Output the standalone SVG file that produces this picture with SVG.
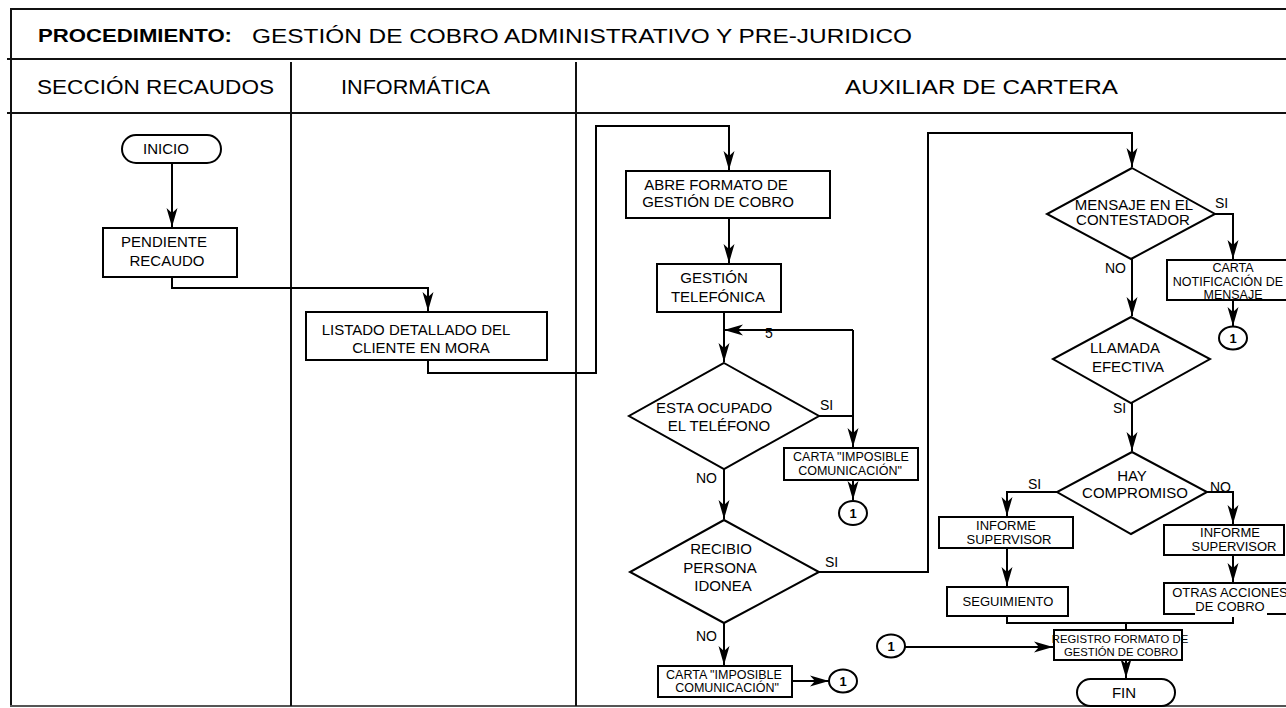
<svg xmlns="http://www.w3.org/2000/svg" width="1286" height="708" viewBox="0 0 1286 708">
  <style>
    text { font-family: "Liberation Sans", Arial, sans-serif; fill: #000; }
    .frame { stroke: #111; stroke-width: 2; fill: none; }
    .box { fill: #fff; stroke: #000; stroke-width: 2; }
    .conn { fill: none; stroke: #000; stroke-width: 2; }
    .t15 { font-size: 15px; text-anchor: middle; }
    .t13 { font-size: 13px; text-anchor: middle; }
    .t12 { font-size: 12.5px; text-anchor: middle; }
    .t11 { font-size: 11.3px; text-anchor: middle; }
    .lbl { font-size: 14px; }
    .ref { font-size: 13px; font-weight: bold; text-anchor: middle; }
    .hdr { font-size: 20px; }
  </style>
  <defs>
    <marker id="arrow" markerUnits="userSpaceOnUse" markerWidth="21" markerHeight="12" refX="19" refY="6" orient="auto">
      <path d="M0,0.5 L19,6 L0,11.5 L5,6 z" fill="#000"/>
    </marker>
  </defs>

  <rect width="1286" height="708" fill="#fff"/>

  <!-- page frame, title row and swimlanes -->
  <g id="frame">
    <line class="frame" x1="11" y1="9" x2="11" y2="706"/>
    <line class="frame" x1="10" y1="9" x2="1286" y2="9"/>
    <line class="frame" x1="7" y1="59" x2="1286" y2="59"/>
    <line class="frame" x1="7" y1="113" x2="1286" y2="113"/>
    <line x1="10" y1="706" x2="1286" y2="706" stroke="#555" stroke-width="2"/>
    <line class="frame" x1="291" y1="62" x2="291" y2="706"/>
    <line class="frame" x1="576" y1="62" x2="576" y2="706"/>
    <text x="38" y="42" font-size="19" font-weight="bold" textLength="194" lengthAdjust="spacingAndGlyphs">PROCEDIMIENTO:</text>
    <text x="252" y="43" class="hdr" textLength="660" lengthAdjust="spacingAndGlyphs">GESTIÓN DE COBRO ADMINISTRATIVO Y PRE-JURIDICO</text>
    <text x="37" y="94" class="hdr" textLength="237" lengthAdjust="spacingAndGlyphs">SECCIÓN RECAUDOS</text>
    <text x="341" y="94" class="hdr" textLength="149" lengthAdjust="spacingAndGlyphs">INFORMÁTICA</text>
    <text x="845" y="94" class="hdr" textLength="273" lengthAdjust="spacingAndGlyphs">AUXILIAR DE CARTERA</text>
  </g>

  <!-- connectors -->
  <g id="connectors">
    <path class="conn" d="M172,163 V227" marker-end="url(#arrow)"/>
    <path class="conn" d="M172,277 V288 H428 V311" marker-end="url(#arrow)"/>
    <path class="conn" d="M428,360 V373 H596 V126 H729 V170" marker-end="url(#arrow)"/>
    <path class="conn" d="M729,218 V263" marker-end="url(#arrow)"/>
    <path class="conn" d="M724,312 V362" marker-end="url(#arrow)"/>
    <path class="conn" d="M819,416 H853 V330"/>
    <path class="conn" d="M853,330 H724" marker-end="url(#arrow)"/>
    <path class="conn" d="M853,416 V447" marker-end="url(#arrow)"/>
    <path class="conn" d="M853,480 V500" marker-end="url(#arrow)"/>
    <path class="conn" d="M724,469 V519" marker-end="url(#arrow)"/>
    <path class="conn" d="M819,572 H928 V133 H1132 V167" marker-end="url(#arrow)"/>
    <path class="conn" d="M724,623 V665" marker-end="url(#arrow)"/>
    <path class="conn" d="M792,681 H829" marker-end="url(#arrow)"/>
    <path class="conn" d="M1215,214 H1233 V259" marker-end="url(#arrow)"/>
    <path class="conn" d="M1233,300 V326" marker-end="url(#arrow)"/>
    <path class="conn" d="M1132,259 V316" marker-end="url(#arrow)"/>
    <path class="conn" d="M1132,403 V451" marker-end="url(#arrow)"/>
    <path class="conn" d="M1057,492 H1007 V516" marker-end="url(#arrow)"/>
    <path class="conn" d="M1007,548 V586" marker-end="url(#arrow)"/>
    <path class="conn" d="M1207,492 H1233 V524" marker-end="url(#arrow)"/>
    <path class="conn" d="M1233,555 V582" marker-end="url(#arrow)"/>
    <path class="conn" d="M1007,616 V623 H1233 V614"/>
    <path class="conn" d="M1126,623 V630"/>
    <path class="conn" d="M905,647 H1053" marker-end="url(#arrow)"/>
    <path class="conn" d="M1126,660 V678" marker-end="url(#arrow)"/>
  </g>

  <!-- edge labels -->
  <g id="edge-labels">
    <text class="lbl" x="765" y="338" font-size="13">5</text>
    <text class="lbl" x="820" y="410">SI</text>
    <text class="lbl" x="696" y="483">NO</text>
    <text class="lbl" x="825" y="567">SI</text>
    <text class="lbl" x="696" y="641">NO</text>
    <text class="lbl" x="1215" y="208">SI</text>
    <text class="lbl" x="1105" y="273">NO</text>
    <text class="lbl" x="1113" y="413">SI</text>
    <text class="lbl" x="1028" y="489">SI</text>
    <text class="lbl" x="1210" y="492">NO</text>
  </g>

  <g id="inicio">
    <rect class="box" x="122" y="135" width="99" height="28" rx="14"/>
    <text class="t15" x="166" y="154">INICIO</text>
  </g>

  <g id="pendiente-recaudo">
    <rect class="box" x="103" y="228" width="134" height="49"/>
    <text class="t15" x="164" y="247">PENDIENTE</text>
    <text class="t15" x="167" y="266">RECAUDO</text>
  </g>

  <g id="listado-clientes">
    <rect class="box" x="306" y="312" width="241" height="48"/>
    <text class="t15" x="416" y="335">LISTADO DETALLADO DEL</text>
    <text class="t15" x="421" y="353">CLIENTE EN MORA</text>
  </g>

  <g id="abre-formato">
    <rect class="box" x="626" y="171" width="204" height="47"/>
    <text class="t15" x="716" y="190">ABRE FORMATO DE</text>
    <text class="t15" x="718" y="207">GESTIÓN DE COBRO</text>
  </g>

  <g id="gestion-telefonica">
    <rect class="box" x="657" y="264" width="124" height="48"/>
    <text class="t15" x="714" y="283">GESTIÓN</text>
    <text class="t15" x="718" y="302">TELEFÓNICA</text>
  </g>

  <g id="telefono-ocupado">
    <polygon class="box" points="724,363 819,416 724,469 629,416"/>
    <text class="t15" x="714" y="413">ESTA OCUPADO</text>
    <text class="t15" x="719" y="431">EL TELÉFONO</text>
  </g>

  <g id="carta-imposible-1">
    <rect class="box" x="784" y="448" width="134" height="32"/>
    <text class="t12" x="851" y="461">CARTA "IMPOSIBLE</text>
    <text class="t12" x="850" y="475">COMUNICACIÓN"</text>
  </g>

  <g id="conector-1a">
    <ellipse class="box" cx="853" cy="513" rx="14" ry="12"/>
    <text class="ref" x="853" y="518">1</text>
  </g>

  <g id="persona-idonea">
    <polygon class="box" points="724,520 819,572 724,623 630,572"/>
    <text class="t15" x="721" y="554">RECIBIO</text>
    <text class="t15" x="720" y="573">PERSONA</text>
    <text class="t15" x="723" y="591">IDONEA</text>
  </g>

  <g id="carta-imposible-2">
    <rect class="box" x="658" y="666" width="134" height="31"/>
    <text class="t12" x="724" y="679">CARTA "IMPOSIBLE</text>
    <text class="t12" x="727" y="692">COMUNICACIÓN"</text>
  </g>

  <g id="conector-1b">
    <ellipse class="box" cx="843" cy="681" rx="14" ry="11.5"/>
    <text class="ref" x="843" y="686">1</text>
  </g>

  <g id="mensaje-contestador">
    <polygon class="box" points="1132,168 1215,214 1131,259 1047,214"/>
    <text class="t15" x="1134" y="210">MENSAJE EN EL</text>
    <text class="t15" x="1133" y="225">CONTESTADOR</text>
  </g>

  <g id="carta-notificacion">
    <rect class="box" x="1167" y="260" width="132" height="40"/>
    <text class="t12" x="1233" y="272">CARTA</text>
    <text class="t12" x="1228" y="286">NOTIFICACIÓN DE</text>
    <text class="t12" x="1233" y="299">MENSAJE</text>
  </g>

  <g id="conector-1c">
    <ellipse class="box" cx="1233" cy="338" rx="14" ry="11.5"/>
    <text class="ref" x="1233" y="343">1</text>
  </g>

  <g id="llamada-efectiva">
    <polygon class="box" points="1131,317 1210,359 1131,403 1053,359"/>
    <text class="t15" x="1125" y="353">LLAMADA</text>
    <text class="t15" x="1128" y="372">EFECTIVA</text>
  </g>

  <g id="hay-compromiso">
    <polygon class="box" points="1132,452 1207,492 1131,534 1057,492"/>
    <text class="t15" x="1132" y="481">HAY</text>
    <text class="t15" x="1135" y="498">COMPROMISO</text>
  </g>

  <g id="informe-supervisor-si">
    <rect class="box" x="939" y="517" width="134" height="31"/>
    <text class="t13" x="1006" y="530">INFORME</text>
    <text class="t13" x="1009" y="544">SUPERVISOR</text>
  </g>

  <g id="seguimiento">
    <rect class="box" x="947" y="587" width="121" height="29"/>
    <text class="t13" x="1008" y="606">SEGUIMIENTO</text>
  </g>

  <g id="informe-supervisor-no">
    <rect class="box" x="1164" y="525" width="120" height="30"/>
    <text class="t13" x="1230" y="537">INFORME</text>
    <text class="t13" x="1234" y="551">SUPERVISOR</text>
  </g>

  <g id="otras-acciones">
    <rect class="box" x="1164" y="583" width="140" height="31"/>
    <rect x="1195" y="600" width="72" height="17" fill="#fff"/>
    <text class="t13" x="1230" y="597">OTRAS ACCIONES</text>
    <text class="t13" x="1230" y="611">DE COBRO</text>
  </g>

  <g id="conector-1d">
    <ellipse class="box" cx="891" cy="646" rx="14" ry="11.5"/>
    <text class="ref" x="891" y="651">1</text>
  </g>

  <g id="registro-formato">
    <rect class="box" x="1054" y="630" width="128" height="30"/>
    <text class="t11" x="1120" y="643">REGISTRO FORMATO DE</text>
    <text class="t11" x="1121" y="656">GESTIÓN DE COBRO</text>
  </g>

  <g id="fin">
    <rect class="box" x="1077" y="679" width="98" height="27" rx="13.5"/>
    <text class="t15" x="1124" y="698">FIN</text>
  </g>
</svg>
